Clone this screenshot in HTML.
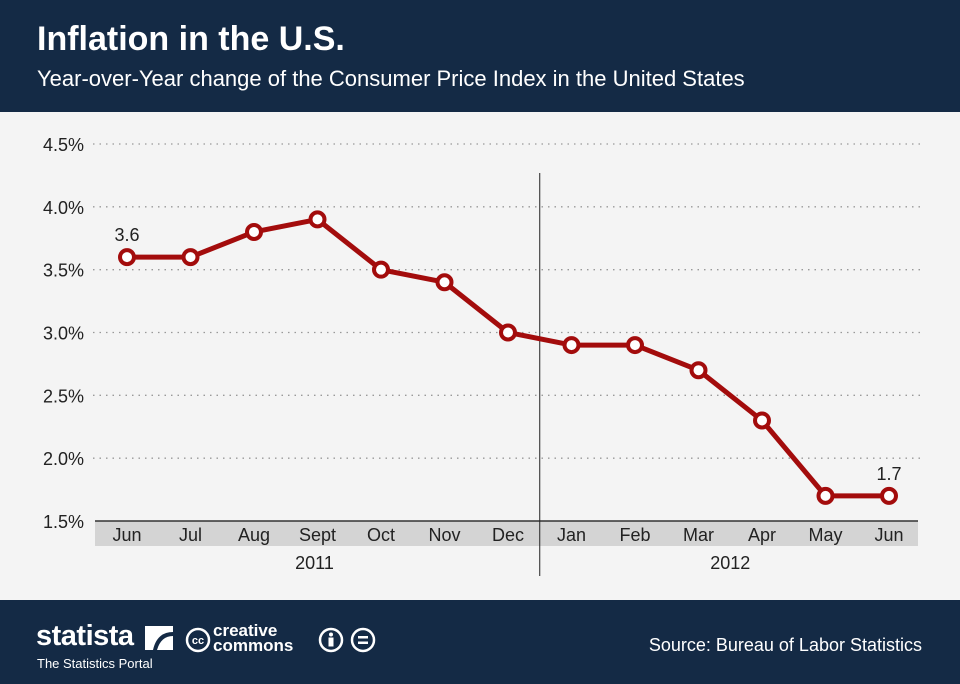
<!DOCTYPE html>
<html><head><meta charset="utf-8"><style>
body{margin:0;width:960px;height:684px;overflow:hidden;font-family:"Liberation Sans",sans-serif;background:#f4f4f4}
#hdr{position:absolute;left:0;top:0;width:960px;height:112px;background:#142a45;color:#fff}
#ftr{position:absolute;left:0;top:600px;width:960px;height:84px;background:#142a45;color:#fff}
</style></head><body>
<div id="hdr">
<div style="position:absolute;left:37px;top:20px;font-size:34px;font-weight:bold">Inflation in the U.S.</div>
<div style="position:absolute;left:37px;top:66px;font-size:22px">Year-over-Year change of the Consumer Price Index in the United States</div>
</div>
<svg id="chart" width="960" height="600" style="position:absolute;left:0;top:0"></svg>
<div id="ftr">
<div style="position:absolute;left:36px;top:20px;font-size:29px;font-weight:bold;letter-spacing:-0.5px">statista</div>
<svg style="position:absolute;left:145px;top:26px" width="28" height="24"><path d="M0 0H28V6Q12 6 8 24H0Z M28 10V24H12Q16 10 28 10Z" fill="#fff"/></svg>
<div style="position:absolute;left:37px;top:56px;font-size:13px">The Statistics Portal</div>
<svg style="position:absolute;left:185px;top:27px" width="26" height="26"><circle cx="13" cy="13" r="11" fill="none" stroke="#fff" stroke-width="2.5"/><text x="13" y="17" font-size="11" font-weight="bold" fill="#fff" text-anchor="middle" font-family="Liberation Sans">cc</text></svg>
<div style="position:absolute;left:213px;top:23px;font-size:17px;font-weight:bold;line-height:15px">creative<br>commons</div>
<svg style="position:absolute;left:318px;top:27px" width="26" height="26"><circle cx="13" cy="13" r="11" fill="none" stroke="#fff" stroke-width="2.5"/><circle cx="13" cy="7.5" r="2" fill="#fff"/><rect x="10.5" y="10.5" width="5" height="9" fill="#fff"/></svg>
<svg style="position:absolute;left:350px;top:27px" width="26" height="26"><circle cx="13" cy="13" r="11" fill="none" stroke="#fff" stroke-width="2.5"/><rect x="8" y="9" width="10" height="2.5" fill="#fff"/><rect x="8" y="14.5" width="10" height="2.5" fill="#fff"/></svg>
<div style="position:absolute;right:38px;top:35px;font-size:18px">Source: Bureau of Labor Statistics</div>
</div>
<script>
const months=["Jun","Jul","Aug","Sept","Oct","Nov","Dec","Jan","Feb","Mar","Apr","May","Jun"];
const values=[3.6,3.6,3.8,3.9,3.5,3.4,3.0,2.9,2.9,2.7,2.3,1.7,1.7];
const yTicks=[1.5,2.0,2.5,3.0,3.5,4.0,4.5];
const yTickLabels=["1.5%","2.0%","2.5%","3.0%","3.5%","4.0%","4.5%"];
const years=["2011","2012"];
const NS="http://www.w3.org/2000/svg";
const svg=document.getElementById('chart');
const x=i=>127+i*63.5;
const y=v=>521-(v-1.5)/3*377;
function mk(t,a,txt){const e=document.createElementNS(NS,t);for(const k in a)e.setAttribute(k,a[k]);if(txt!==undefined)e.textContent=txt;svg.appendChild(e);return e;}
yTicks.forEach((t,i)=>{
 if(i>0){const g=mk('line',{x1:93,x2:920,y1:y(t),y2:y(t),stroke:'#999','stroke-width':1.3,'stroke-dasharray':'1.5 5'});
 
 }
 const l=mk('text',{x:84,y:y(t)+7,'font-size':18,fill:'#222','text-anchor':'end','font-family':'Liberation Sans'},yTickLabels[i]);
 
 
});
const band=mk('rect',{x:95,y:521,width:823,height:25,fill:'#d4d4d4'});


const ax=mk('line',{x1:95,x2:918,y1:521,y2:521,stroke:'#333','stroke-width':1.5});


months.forEach((m,i)=>{
 const t=mk('text',{x:x(i),y:541,'font-size':18,fill:'#222','text-anchor':'middle','font-family':'Liberation Sans'},m);
 
 
});
const div=mk('line',{x1:(x(6)+x(7))/2,x2:(x(6)+x(7))/2,y1:173,y2:576,stroke:'#222','stroke-width':1});


[[years[0],(x(0)+x(6))/2-3],[years[1],(x(7)+x(12))/2]].forEach(([yr,cx])=>{
 const t=mk('text',{x:cx,y:569,'font-size':18,fill:'#222','text-anchor':'middle','font-family':'Liberation Sans'},yr);
 
 
});
const line=mk('polyline',{points:values.map((v,i)=>x(i)+','+y(v)).join(' '),fill:'none',stroke:'#a30c0c','stroke-width':5,'stroke-linejoin':'round'});


values.forEach((v,i)=>{
 const c=mk('circle',{cx:x(i),cy:y(v),r:7,fill:'#fff',stroke:'#a30c0c','stroke-width':4});
 
 
});
[0,values.length-1].forEach(i=>{
 const t=mk('text',{x:x(i),y:y(values[i])-16,'font-size':18,fill:'#222','text-anchor':'middle','font-family':'Liberation Sans'},String(values[i]));
 
 
});
</script>
</body></html>
